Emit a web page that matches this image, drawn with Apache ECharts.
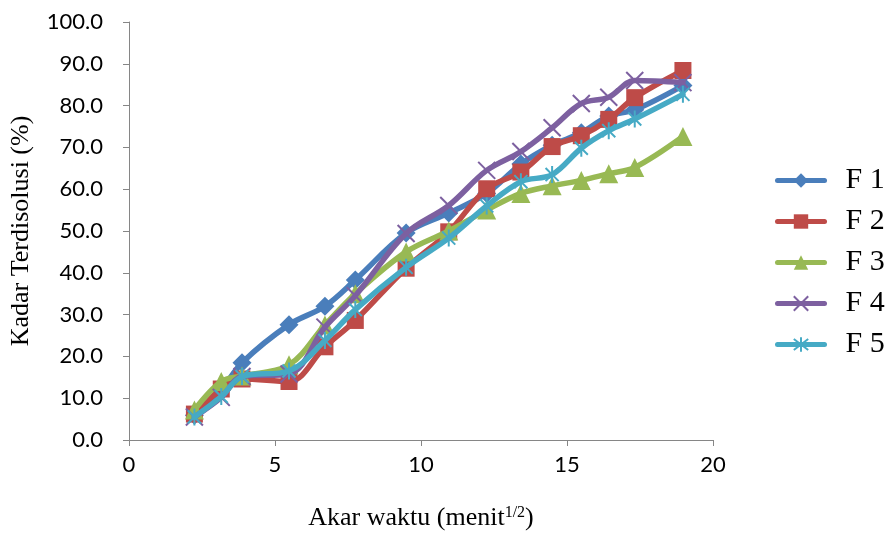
<!DOCTYPE html>
<html>
<head>
<meta charset="utf-8">
<script src="https://cdn.jsdelivr.net/npm/echarts@6/dist/echarts.min.js"></script>
<style>
html,body{margin:0;padding:0;background:#fff;}
#chart{width:891px;height:536px;}
</style>
</head>
<body>
<div id="chart"></div>
<script>
// Akar waktu (menit^1/2)
const xValues = [2.24, 3.16, 3.87, 5.48, 6.71, 7.75, 9.49, 10.95, 12.25, 13.42, 14.49, 15.49, 16.43, 17.32, 18.97];
const seriesNames = ['F 1', 'F 2', 'F 3', 'F 4', 'F 5'];
const f1 = [5.9, 12.0, 18.5, 27.6, 32.0, 38.3, 49.5, 54.3, 59.0, 66.0, 70.5, 73.5, 77.5, 79.0, 84.8];
const f2 = [6.2, 12.2, 14.6, 14.0, 22.3, 28.6, 41.1, 49.8, 60.1, 64.1, 70.2, 72.8, 76.7, 81.9, 88.4];
const f3 = [7.2, 14.0, 15.3, 18.0, 27.5, 35.0, 45.0, 50.0, 55.0, 59.0, 60.8, 62.1, 63.7, 65.2, 72.6];
const f4 = [5.5, 10.2, 15.2, 15.8, 27.0, 34.5, 49.4, 56.1, 64.5, 69.0, 74.7, 80.5, 82.0, 86.0, 85.5];
const f5 = [5.5, 10.4, 15.2, 16.5, 23.8, 31.2, 41.3, 48.3, 56.0, 61.8, 63.5, 69.8, 74.0, 76.8, 82.7];
const yTicks = [0, 100, 10];
const xTicks = [0, 20, 5];

const colors = ['#4A7EBB', '#BE4B48', '#98B954', '#7D60A0', '#46AAC5'];
const symbols = [
  'diamond',
  'rect',
  'triangle',
  'path://M0,0L10,10M10,0L0,10',
  'path://M0,0L10,10M10,0L0,10M5,-1.5L5,11.5'
];
const symbolSizes = [19, 17, 19, 17, 17];
const allData = [f1, f2, f3, f4, f5];

function pairs(vals) { return xValues.map((x, i) => [x, vals[i]]); }

const series = allData.map((vals, k) => {
  const isStroke = k >= 3;
  return {
    name: seriesNames[k],
    type: 'line',
    data: pairs(vals),
    smooth: 0.35,
    symbol: symbols[k],
    symbolSize: symbolSizes[k],
    symbolKeepAspect: true,
    showAllSymbol: true,
    lineStyle: { color: colors[k], width: 5.5, cap: 'round' },
    itemStyle: isStroke
      ? { color: 'rgba(0,0,0,0)', borderColor: colors[k], borderWidth: 2 }
      : { color: colors[k], borderWidth: 0 },
    emphasis: { disabled: true },
    z: 2 + k
  };
});

const chart = echarts.init(document.getElementById('chart'), null, { renderer: 'canvas' });
chart.setOption({
  animation: false,
  backgroundColor: '#ffffff',
  color: colors,
  grid: { left: 128, right: 178, top: 22, bottom: 93, containLabel: false },
  xAxis: {
    type: 'value',
    min: xTicks[0], max: xTicks[1], interval: xTicks[2],
    name: '{a|Akar waktu (menit}{s|1/2}{a|)}',
    nameLocation: 'middle',
    nameGap: 65,
    nameTextStyle: {
      rich: {
        a: { fontFamily: 'Liberation Serif', fontSize: 26, color: '#000' },
        s: { fontFamily: 'Liberation Serif', fontSize: 16, color: '#000', verticalAlign: 'top', padding: [0, 0, 10, 0] }
      }
    },
    axisLine: { show: true, lineStyle: { color: '#868686', width: 1 } },
    axisTick: { show: true, inside: false, length: 6, lineStyle: { color: '#868686' } },
    axisLabel: { fontFamily: 'Lato', fontSize: 22, color: '#000', margin: 14 },
    splitLine: { show: false }
  },
  yAxis: {
    type: 'value',
    min: yTicks[0], max: yTicks[1], interval: yTicks[2],
    name: 'Kadar Terdisolusi (%)',
    nameLocation: 'middle',
    nameGap: 95,
    nameTextStyle: { fontFamily: 'Liberation Serif', fontSize: 26, color: '#000' },
    axisLine: { show: true, lineStyle: { color: '#868686', width: 1 } },
    axisTick: { show: true, inside: false, length: 6, lineStyle: { color: '#868686' } },
    axisLabel: { fontFamily: 'Lato', fontSize: 22, color: '#000', margin: 26, formatter: v => v.toFixed(1) },
    splitLine: { show: false }
  },
  legend: {
    orient: 'vertical',
    left: 770,
    top: 160,
    itemWidth: 47,
    itemHeight: 18,
    itemGap: 10,
    data: seriesNames,
    lineStyle: { width: 5 },
    textStyle: { fontFamily: 'Liberation Serif', fontSize: 30, color: '#000', lineHeight: 31, padding: [0, 0, 0, 16] },
    selectedMode: false
  },
  series: series
});
</script>
</body>
</html>
